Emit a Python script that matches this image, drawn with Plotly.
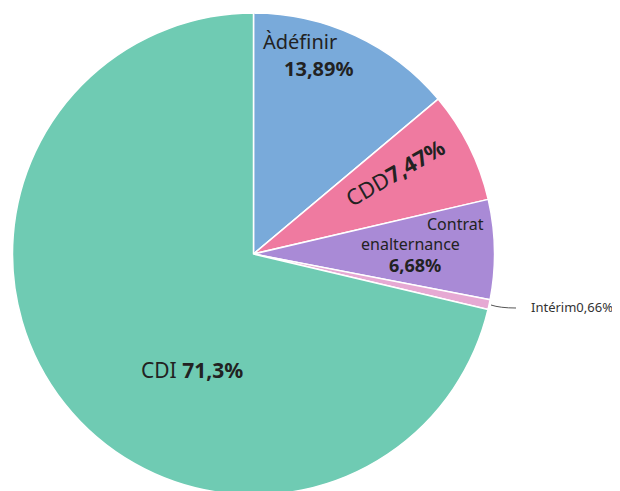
import plotly.graph_objects as go

# ---- data ----
categories = ["À définir", "CDD", "Contrat en alternance", "Intérim", "CDI"]
values = [13.89, 7.47, 6.68, 0.66, 71.3]
value_labels = ["13,89%", "7,47%", "6,68%", "0,66%", "71,3%"]
colors = ["#79aada", "#ef7aa0", "#a98ad6", "#e6a9d3", "#6fcbb3"]

W, H = 620, 491
OFF = 8  # page body margin
FONT = "Noto Sans, Open Sans, sans-serif"


def px(x):
    return (x - OFF) / W


def py(y):
    return 1 - (y - OFF) / H


CX, CY, R = 253.5, 254, 241

fig = go.Figure(
    go.Pie(
        labels=categories,
        values=values,
        sort=False,
        direction="clockwise",
        rotation=0,
        marker=dict(colors=colors, line=dict(color="white", width=1.5)),
        textinfo="none",
        hoverinfo="label+percent",
        showlegend=False,
        domain=dict(x=[px(CX - R), px(CX + R)], y=[py(CY + R), py(CY - R)]),
    )
)

ann = []


def add(text, x, y, size, angle=0, xanchor="center", color="#222222"):
    ann.append(dict(text=text, x=px(x), y=py(y), xref="paper", yref="paper",
                    showarrow=False, textangle=angle, xanchor=xanchor, yanchor="middle",
                    font=dict(family=FONT, size=size, color=color)))


# À définir
add("Àdéfinir", 261, 42, 20, xanchor="left")
add("<b>" + value_labels[0] + "</b>", 319, 69, 20)
# CDD (rotated)
add("CDD<b>" + value_labels[1] + "</b>", 395, 172, 22, angle=-30)
# Contrat en alternance
add("Contrat", 486, 224, 16, xanchor="right")
add("enalternance", 410, 244, 16)
add("<b>" + value_labels[2] + "</b>", 415, 265, 18)
# Intérim (outside)
add("Intérim" + value_labels[3], 529, 307, 13, xanchor="left", color="#333333")
# CDI
add("CDI <b>" + value_labels[4] + "</b>", 192, 370, 21)

fig.update_layout(
    width=W, height=H,
    margin=dict(l=0, r=0, t=0, b=0),
    paper_bgcolor="white",
    plot_bgcolor="white",
    annotations=ann,
    shapes=[dict(type="path", xref="paper", yref="paper",
                 path=f"M {px(491)} {py(305)} Q {px(500)} {py(308)} {px(516)} {py(308)}",
                 line=dict(color="#555555", width=1))],
)

fig.write_html("out.html")
